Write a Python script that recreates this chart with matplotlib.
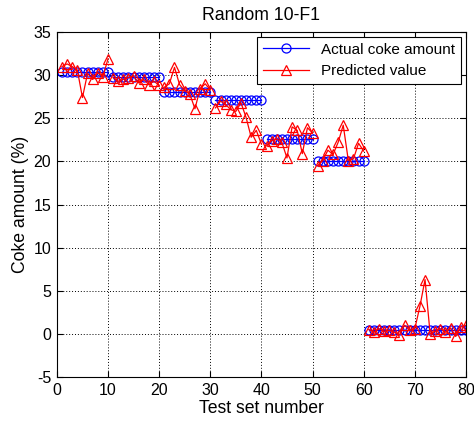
import matplotlib
matplotlib.use("Agg")
import matplotlib.pyplot as plt
import numpy as np

plt.rcParams['font.family'] = ['Liberation Sans', 'DejaVu Sans']
plt.rcParams['axes.unicode_minus'] = False

x = list(range(1, 81))
group_sizes = [10, 10, 10, 10, 10, 10, 20]
actual = [30.4] * 10 + [29.8] * 10 + [28.1] * 10 + [27.1] * 10 + [22.6] * 10 + [20.0] * 10 + [0.4] * 20
predicted = [
    31.0, 31.3, 31.0, 30.6, 27.4, 30.2, 29.5, 30.3, 29.8, 31.9,
    29.7, 29.3, 29.5, 29.7, 29.9, 29.1, 29.5, 28.9, 29.3, 28.8,
    28.6, 29.0, 30.9, 28.9, 28.2, 27.8, 26.1, 28.4, 29.0, 28.3,
    26.2, 27.0, 26.6, 26.0, 25.8, 26.8, 25.1, 22.8, 23.6, 22.0,
    21.8, 22.4, 22.6, 22.2, 20.4, 24.0, 23.6, 20.9, 23.9, 23.3,
    19.5, 20.1, 21.3, 20.8, 22.2, 24.2, 20.1, 20.3, 22.1, 21.2,
    0.5, 0.2, 0.6, 0.3, 0.4, 0.2, -0.1, 1.0, 0.4, 0.6,
    3.2, 6.3, 0.0, 0.3, 0.6, 0.2, 0.7, -0.3, 0.8, 1.0,
]
xticks = [0, 10, 20, 30, 40, 50, 60, 70, 80]
yticks = [-5, 0, 5, 10, 15, 20, 25, 30, 35]

fig = plt.figure(figsize=(4.74, 4.23), dpi=100)
ax = fig.add_axes([0.120, 0.1087, 0.863, 0.8156])

start = 0
for gi, n in enumerate(group_sizes):
    sl = slice(start, start + n)
    ax.plot(x[sl], actual[sl], color='blue', marker='o', markersize=6.5, markerfacecolor='none',
            markeredgewidth=0.9, linewidth=0.9,
            label='Actual coke amount' if gi == 0 else None)
    start += n
start = 0
for gi, n in enumerate(group_sizes):
    sl = slice(start, start + n)
    ax.plot(x[sl], predicted[sl], color='red', marker='^', markersize=7.5, markerfacecolor='none',
            markeredgewidth=0.9, linewidth=0.9,
            label='Predicted value' if gi == 0 else None)
    start += n

ax.set_xlim(0, 80)
ax.set_ylim(-5, 35)
ax.set_xticks(xticks)
ax.set_yticks(yticks)
ax.tick_params(direction='in', top=True, right=True, labelsize=11.5, length=4, width=0.8, pad=4)
ax.grid(True, color='black', linestyle=(0, (1, 2)), linewidth=0.7)
for s in ax.spines.values():
    s.set_linewidth(0.8)
ax.set_xlabel('Test set number', fontsize=12.7, labelpad=2)
ax.set_ylabel('Coke amount (%)', fontsize=12.7, labelpad=3)
ax.set_title('Random 10-F1', fontsize=12.7, pad=9)

leg = ax.legend(loc='upper right', fontsize=11, fancybox=False, edgecolor='black',
                framealpha=1, borderaxespad=0.3, handlelength=3.0, borderpad=0.4)
leg.get_frame().set_linewidth(0.8)

fig.savefig('out.png', dpi=100)
